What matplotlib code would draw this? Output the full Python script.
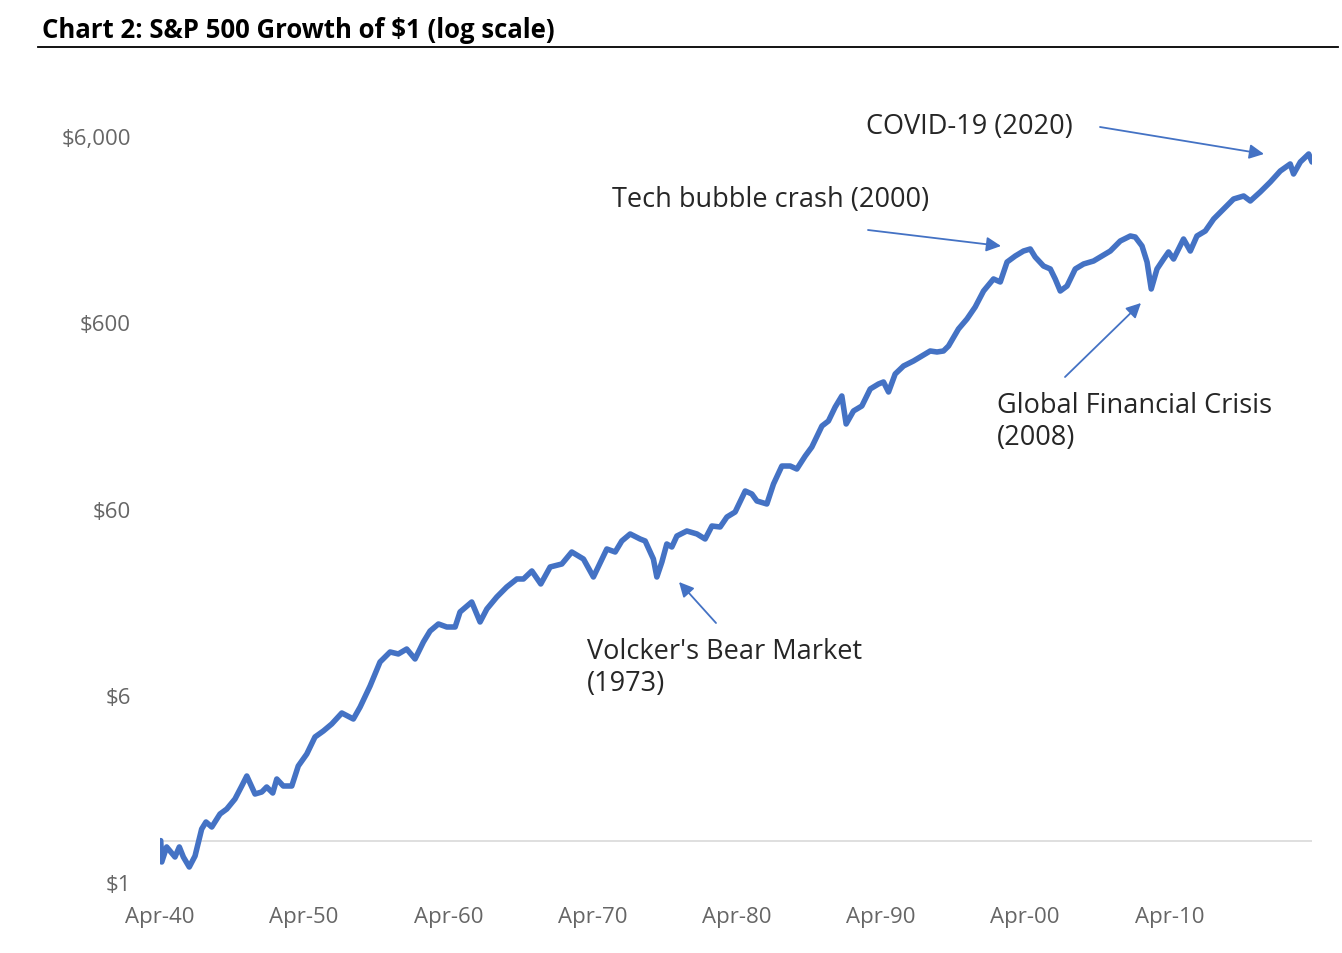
import matplotlib
matplotlib.use('Agg')
import matplotlib.pyplot as plt
from matplotlib.lines import Line2D
from matplotlib.ticker import NullLocator

# S&P 500 growth of $1
years = [1940.30, 1940.37, 1940.71, 1941.29, 1941.59, 1941.87, 1942.28, 1942.68,
         1943.14, 1943.44, 1943.84, 1944.41, 1944.88, 1945.45, 1945.92, 1946.27,
         1946.84, 1947.31, 1947.65, 1948.07, 1948.35, 1948.80, 1949.39, 1949.84,
         1950.43, 1951.00, 1951.58, 1952.16, 1952.86, 1953.66, 1954.13, 1954.82,
         1955.51, 1956.21, 1956.78, 1957.36, 1957.94, 1958.52, 1958.98, 1959.56,
         1960.14, 1960.72, 1961.06, 1961.87, 1962.45, 1962.92, 1963.61, 1964.30,
         1965.00, 1965.46, 1966.04, 1966.66, 1967.31, 1968.12, 1968.81, 1969.62,
         1970.31, 1971.24, 1971.82, 1972.28, 1972.86, 1973.55, 1973.90, 1974.47,
         1974.71, 1975.06, 1975.40, 1975.75, 1976.10, 1976.79, 1977.49, 1978.06,
         1978.53, 1979.10, 1979.57, 1980.14, 1980.84, 1981.30, 1981.65, 1982.34,
         1982.80, 1983.38, 1983.96, 1984.42, 1985.00, 1985.46, 1986.16, 1986.61,
         1987.08, 1987.54, 1987.84, 1988.35, 1988.93, 1989.51, 1990.08, 1990.43,
         1990.78, 1991.24, 1991.82, 1992.51, 1993.09, 1993.67, 1994.14, 1994.59,
         1994.94, 1995.63, 1996.22, 1996.79, 1997.37, 1998.06, 1998.53, 1999.00,
         1999.57, 2000.14, 2000.61, 2000.95, 2001.53, 2002.00, 2002.34, 2002.69,
         2003.16, 2003.73, 2004.31, 2005.00, 2005.47, 2006.16, 2006.85, 2007.55,
         2007.89, 2008.36, 2008.71, 2009.00, 2009.40, 2009.86, 2010.20, 2010.55,
         2011.24, 2011.71, 2012.17, 2012.75, 2013.33, 2014.02, 2014.71, 2015.41,
         2015.87, 2016.56, 2017.26, 2017.95, 2018.64, 2018.87, 2019.34, 2019.92,
         2020.15]

growth = [1.00, 0.768, 0.925, 0.817, 0.925, 0.817, 0.722, 0.827,
          1.154, 1.259, 1.183, 1.389, 1.477, 1.672, 1.963, 2.221,
          1.778, 1.823, 1.939, 1.800, 2.140, 1.963, 1.963, 2.513,
          2.914, 3.596, 3.871, 4.221, 4.834, 4.489, 5.206, 6.748,
          9.074, 10.27, 10.02, 10.65, 9.42, 11.62, 13.30, 14.51,
          13.98, 13.98, 16.83, 19.03, 14.87, 17.46, 20.25, 22.91,
          25.29, 25.29, 27.92, 23.78, 29.33, 30.43, 35.29, 32.36,
          25.92, 36.62, 35.29, 40.43, 44.09, 41.43, 40.43, 32.36,
          25.92, 31.19, 38.95, 37.53, 42.99, 45.74, 44.09, 41.43,
          48.64, 48.05, 54.36, 57.82, 74.94, 72.22, 66.24, 63.83,
          81.69, 102.0, 102.0, 98.3, 115.4, 129.0, 167.2, 177.8,
          211.4, 242.2, 171.4, 201.3, 214.1, 264.1, 280.8, 287.9,
          254.4, 317.8, 350.8, 373.1, 396.8, 422.1, 416.9, 422.1,
          448.9, 553.9, 626.6, 726.6, 885.3, 1027, 989.5, 1266,
          1364, 1450, 1487, 1347, 1205, 1162, 1027, 885.3,
          941.8, 1162, 1236, 1282, 1347, 1450, 1641, 1746,
          1724, 1543, 1266, 907.5, 1162, 1314, 1433, 1314,
          1682, 1450, 1746, 1857, 2154, 2437, 2756, 2861,
          2690, 3006, 3401, 3895, 4248, 3753, 4354, 4805,
          4354]

ytick_vals = [0.6, 6, 60, 600, 6000]
ytick_labels = [r'\$1', r'\$6', r'\$60', r'\$600', r'\$6,000']
xtick_years = [1940.25, 1950.25, 1960.25, 1970.25, 1980.25, 1990.25, 2000.25, 2010.25]
xtick_labels = ['Apr-40', 'Apr-50', 'Apr-60', 'Apr-70', 'Apr-80', 'Apr-90', 'Apr-00', 'Apr-10']

plt.rcParams['font.family'] = ['Open Sans', 'DejaVu Sans']

W, H = 1342, 954


def px(x, y):
    return (x / W, 1 - y / H)


fig = plt.figure(figsize=(W / 100, H / 100), dpi=100)
fig.patch.set_facecolor('white')
ax = fig.add_axes([160 / W, 1 - 883 / H, 1152 / W, 746 / H])

ax.axhline(1, color='#d9d9d9', lw=1.2, zorder=1)
ax.plot(years, growth, color='#4472C4', lw=4.0, solid_joinstyle='round',
        solid_capstyle='round', zorder=3)

ax.set_yscale('log')
ax.set_ylim(0.6, 6000)
ax.set_xlim(years[0] - 0.05, years[-1])
ax.yaxis.set_minor_locator(NullLocator())
ax.set_yticks(ytick_vals, ytick_labels)
ax.set_xticks(xtick_years, xtick_labels)
ax.tick_params(axis='both', length=0, labelsize=16, labelcolor='#666666')
ax.tick_params(axis='y', pad=21)
ax.tick_params(axis='x', pad=17)
for s in ax.spines.values():
    s.set_visible(False)

# title and rule
fig.text(*px(42, 30), r'Chart 2: S&P 500 Growth of \$1 (log scale)', fontsize=18.5,
         fontweight='bold', va='center', ha='left', color='black')
fig.add_artist(Line2D([38 / W, 1338 / W], [1 - 48 / H] * 2, color='black', lw=1.3))

# annotations
txt_kw = dict(fontsize=19.5, color='#262626', ha='left', va='center', linespacing=1.15)
fig.text(*px(866, 127), 'COVID-19 (2020)', **txt_kw)
fig.text(*px(612, 200), 'Tech bubble crash (2000)', **txt_kw)
fig.text(*px(997, 422), 'Global Financial Crisis\n(2008)', **txt_kw)
fig.text(*px(587, 668), "Volcker's Bear Market\n(1973)", **txt_kw)

arrows = [((1100, 128), (1264, 155)),
          ((868, 231), (1001, 247)),
          ((1065, 378), (1141, 304)),
          ((716, 624), (679, 583))]
for tail, tip in arrows:
    ax.annotate('', xy=px(*tip), xycoords='figure fraction',
                xytext=px(*tail), textcoords='figure fraction',
                arrowprops=dict(arrowstyle='-|>', color='#4472C4', lw=1.3,
                                mutation_scale=22, shrinkA=0, shrinkB=0),
                annotation_clip=False)

fig.savefig('out.png', dpi=100)
